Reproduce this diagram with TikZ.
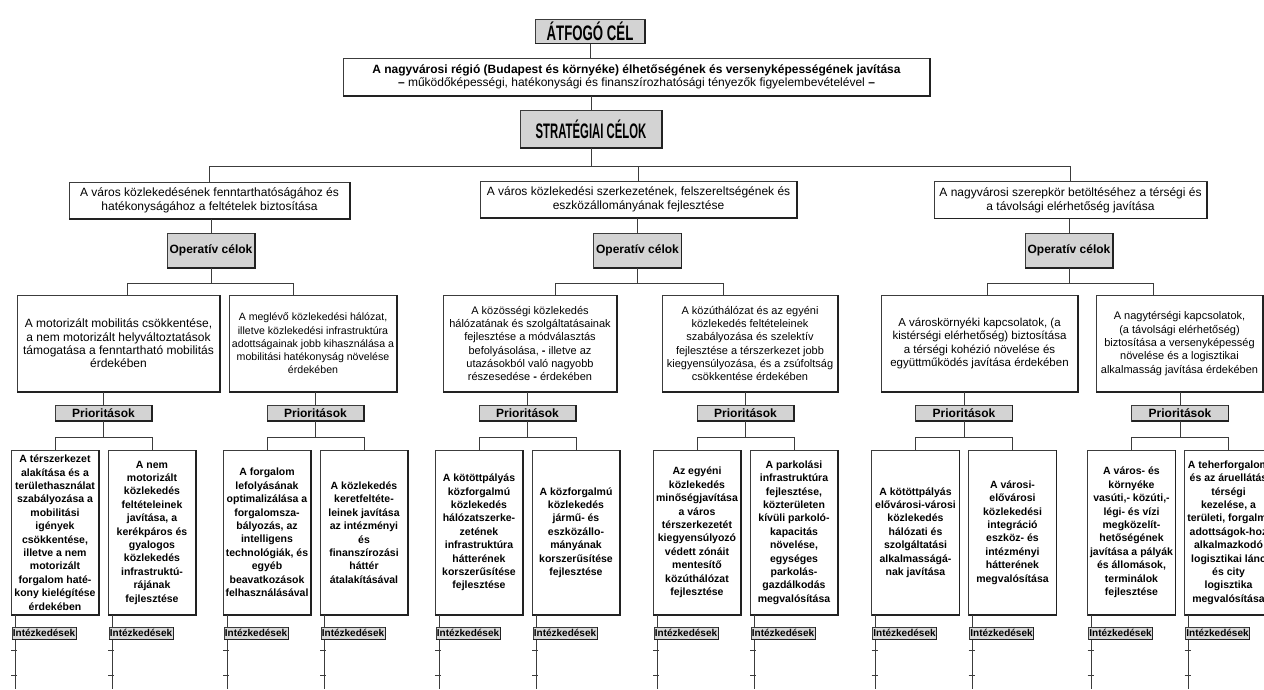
\documentclass[tikz,border=0pt]{standalone}
\usepackage{fontspec}
\setmainfont{Liberation Sans}
\usetikzlibrary{calc}
\definecolor{linec}{HTML}{3C3C3C}
\definecolor{edgec}{HTML}{222222}
\definecolor{boxgray}{HTML}{D3D3D3}
\definecolor{tabgray}{HTML}{DADADA}
\begin{document}
\begin{tikzpicture}[x=1pt,y=-1pt,
  every node/.style={inner sep=0pt,outer sep=0pt},
  conn/.style={draw=linec,line width=0.8pt},
  rim/.style={draw=edgec,line width=1.2pt},
  thinrim/.style={draw=edgec,line width=0.9pt},
  box/.style={draw=linec,line width=0.6pt,align=center},
  whitebox/.style={box,fill=white},
  graybox/.style={box,fill=boxgray},
  headbox/.style={graybox,font=\fontsize{21}{21}\selectfont\bfseries},
  topgoal/.style={whitebox,minimum width=587,minimum height=38,font=\fontsize{12}{12.5}\selectfont},
  stratgoal/.style={whitebox,minimum height=37,font=\fontsize{12}{14}\selectfont},
  optab/.style={graybox,minimum width=88,minimum height=35,font=\fontsize{12}{14}\selectfont\bfseries},
  opgoal/.style={whitebox,minimum height=97,font=\fontsize{11}{13.3}\selectfont},
  priotab/.style={graybox,minimum width=97,minimum height=16,font=\fontsize{12}{14}\selectfont\bfseries},
  priogoal/.style={whitebox,minimum width=88,minimum height=165,font=\fontsize{10.5}{13.4}\selectfont\bfseries},
  meastab/.style={box,fill=tabgray,line width=0.5pt,minimum width=64,minimum height=12,font=\fontsize{10}{10}\selectfont\bfseries},
]
\useasboundingbox (0,0) rectangle (1264,689);
\clip (0,0) rectangle (1264,689);
\fill[white] (0,0) rectangle (1264,689);

% --- overall goal and strategic heading ---
\node[headbox,minimum width=110,minimum height=24] (atfogo) at (590,31.5) {\scalebox{0.63}[1]{ÁTFOGÓ CÉL}};
\node[topgoal] (overall) at (636.5,77) {{\bfseries A nagyvárosi régió (Budapest és környéke) élhetőségének és versenyképességének javítása}\\{\bfseries –} működőképességi, hatékonysági és finanszírozhatósági tényezők figyelembevételével {\bfseries –}};
\node[headbox,minimum width=142,minimum height=38] (strat) at (591,129) {\scalebox{0.54}[1]{STRATÉGIAI CÉLOK}};

% --- strategic goals ---
\node[stratgoal,minimum width=281] (s1) at (209.5,200.5) {A város közlekedésének fenntarthatóságához és\\hatékonyságához a feltételek biztosítása};
\node[stratgoal,minimum width=317] (s2) at (638.5,199.5) {A város közlekedési szerkezetének, felszereltségének és\\eszközállományának fejlesztése};
\node[stratgoal,minimum width=273] (s3) at (1070.5,200) {A nagyvárosi szerepkör betöltéséhez a térségi és\\a távolsági elérhetőség javítása};

% --- operative headings ---
\node[optab] (op1) at (211,250.5) {Operatív célok};
\node[optab] (op2) at (637.5,250.5) {Operatív célok};
\node[optab] (op3) at (1069,250.5) {Operatív célok};

% --- operative goals ---
\node[opgoal,minimum width=203,font=\fontsize{12}{13.3}\selectfont] (g1a) at (118.5,343.5) {A motorizált mobilitás csökkentése,\\a nem motorizált helyváltoztatások\\támogatása a fenntartható mobilitás\\érdekében};
\node[opgoal,minimum width=168,font=\fontsize{10.6}{13.3}\selectfont] (g1b) at (313,343.5) {A meglévő közlekedési hálózat,\\illetve közlekedési infrastruktúra\\adottságainak jobb kihasználása a\\mobilitási hatékonyság növelése\\érdekében};
\node[opgoal,minimum width=174] (g2a) at (530,343.5) {A közösségi közlekedés\\hálózatának és szolgáltatásainak\\fejlesztése a módválasztás\\befolyásolása, {\bfseries -} illetve az\\utazásokból való nagyobb\\részesedése {\bfseries -} érdekében};
\node[opgoal,minimum width=176] (g2b) at (750,343.5) {A közúthálózat és az egyéni\\közlekedés feltételeinek\\szabályozása és szelektív\\fejlesztése a térszerkezet jobb\\kiegyensúlyozása, és a zsúfoltság\\csökkentése érdekében};
\node[opgoal,minimum width=197,font=\fontsize{11.5}{13.3}\selectfont] (g3a) at (979.5,343.5) {A városkörnyéki kapcsolatok, (a\\kistérségi elérhetőség) biztosítása\\a térségi kohézió növelése és\\együttműködés javítása érdekében};
\node[opgoal,minimum width=167] (g3b) at (1179.5,343.5) {A nagytérségi kapcsolatok,\\(a távolsági elérhetőség)\\biztosítása a versenyképesség\\növelése és a logisztikai\\alkalmasság javítása érdekében};

% --- priority headings ---
\node[priotab] (p1a) at (103.5,413) {Prioritások};
\node[priotab] (p1b) at (315.5,413) {Prioritások};
\node[priotab] (p2a) at (527.5,413) {Prioritások};
\node[priotab] (p2b) at (745.5,413) {Prioritások};
\node[priotab] (p3a) at (964,413) {Prioritások};
\node[priotab] (p3b) at (1180,413) {Prioritások};

% --- priorities ---
\node[priogoal] (q1) at (55,532.5) {A térszerkezet\\alakítása és a\\területhasználat\\szabályozása a\\mobilitási\\igények\\csökkentése,\\illetve a nem\\motorizált\\forgalom haté-\\kony kielégítése\\érdekében};
\node[priogoal] (q2) at (152,532.5) {A nem\\motorizált\\közlekedés\\feltételeinek\\javítása, a\\kerékpáros és\\gyalogos\\közlekedés\\infrastruktú-\\rájának\\fejlesztése};
\node[priogoal] (q3) at (267,532.5) {A forgalom\\lefolyásának\\optimalizálása a\\forgalomsza-\\bályozás, az\\intelligens\\technológiák, és\\egyéb\\beavatkozások\\felhasználásával};
\node[priogoal] (q4) at (364,532.5) {A közlekedés\\keretfeltéte-\\leinek javítása\\az intézményi\\és\\finanszírozási\\háttér\\átalakításával};
\node[priogoal] (q5) at (479,532.5) {A kötöttpályás\\közforgalmú\\közlekedés\\hálózatszerke-\\zetének\\infrastruktúra\\hátterének\\korszerűsítése\\fejlesztése};
\node[priogoal] (q6) at (576,532.5) {A közforgalmú\\közlekedés\\jármű- és\\eszközállo-\\mányának\\korszerűsítése\\fejlesztése};
\node[priogoal] (q7) at (697,532.5) {Az egyéni\\közlekedés\\minőségjavítása\\a város\\térszerkezetét\\kiegyensúlyozó\\védett zónáit\\mentesítő\\közúthálózat\\fejlesztése};
\node[priogoal] (q8) at (794,532.5) {A parkolási\\infrastruktúra\\fejlesztése,\\közterületen\\kívüli parkoló-\\kapacitás\\növelése,\\egységes\\parkolás-\\gazdálkodás\\megvalósítása};
\node[priogoal] (q9) at (915.5,532.5) {A kötöttpályás\\elővárosi-városi\\közlekedés\\hálózati és\\szolgáltatási\\alkalmasságá-\\nak javítása};
\node[priogoal] (q10) at (1012.5,532.5) {A városi-\\elővárosi\\közlekedési\\integráció\\eszköz- és\\intézményi\\hátterének\\megvalósítása};
\node[priogoal] (q11) at (1131.5,532.5) {A város- és\\környéke\\vasúti,- közúti,-\\légi- és vízi\\megközelít-\\hetőségének\\javítása a pályák\\és állomások,\\terminálok\\fejlesztése};
\node[priogoal] (q12) at (1228.5,532.5) {A teherforgalom\\és az áruellátás\\térségi\\kezelése, a\\területi, forgalmi\\adottságok-hoz\\alkalmazkodó\\logisztikai lánc\\és city\\logisztika\\megvalósítása};

% --- dark lower/right rims of the boxes ---
\foreach \n in {atfogo,overall,strat,s1,s2,s3,op1,op2,op3,g1a,g1b,g2a,g2b,g3a,g3b,p1a,p1b,p2a,p2b,p3a,p3b,q1,q2,q3,q4,q5,q6,q7,q8,q9,q10,q11,q12}
  \draw[rim] (\n.north east) -- (\n.south east) -- (\n.south west);

% --- upper connectors ---
\draw[conn] (atfogo.south) -- (atfogo.south |- overall.north);
\draw[conn] (strat.north |- overall.south) -- (strat.north);
\coordinate (hs) at (591,166.5);
\draw[conn] (strat.south) -- (hs);
\draw[conn] (s1.north) |- (hs) -| (s3.north);
\draw[conn] (s2.north) -- (s2.north |- hs);
\draw[conn] (op1.north |- s1.south) -- (op1.north);
\draw[conn] (op2.north |- s2.south) -- (op2.north);
\draw[conn] (op3.north |- s3.south) -- (op3.north);

% --- operative branches ---
\coordinate (j1a) at (127,283);  \coordinate (j1b) at (293,283);
\coordinate (j2a) at (555,283);  \coordinate (j2b) at (723,283);
\coordinate (j3a) at (987,283);  \coordinate (j3b) at (1153,283);
\draw[conn] (op1.south) -- (op1.south |- j1a);
\draw[conn] (op2.south) -- (op2.south |- j2a);
\draw[conn] (op3.south) -- (op3.south |- j3a);
\draw[conn] (g1a.north -| j1a) -- (j1a) -- (j1b) -- (g1b.north -| j1b);
\draw[conn] (g2a.north -| j2a) -- (j2a) -- (j2b) -- (g2b.north -| j2b);
\draw[conn] (g3a.north -| j3a) -- (j3a) -- (j3b) -- (g3b.north -| j3b);

% --- priority connectors ---
\foreach \g/\p/\a/\b in {g1a/p1a/q1/q2,g1b/p1b/q3/q4,g2a/p2a/q5/q6,g2b/p2b/q7/q8,g3a/p3a/q9/q10,g3b/p3b/q11/q12}{
  \draw[conn] (\p.north |- \g.south) -- (\p.north);
  \draw[conn] (\p.south) -- ++(0,16);
  \draw[conn] (\a.north) -- ++(0,-13) -| (\b.north);
}

% --- measures under each priority ---
\foreach \q in {q1,q2,q3,q4,q5,q6,q7,q8,q9,q10,q11,q12}{
  \draw[conn] ($(\q.south west)+(4,0)$) -- ($(\q.south west)+(4,74)$) coordinate (\q-end);
  \draw[conn] ($(\q.south west)+(0,35)$) -- ++(6,0);
  \draw[conn] ($(\q.south west)+(0,60)$) -- ++(6,0);
  \node[meastab,anchor=west] (\q-m) at ($(\q.south west)+(1,18)$) {Intézkedések};
  \draw[thinrim] (\q-m.north east) -- (\q-m.south east) -- (\q-m.south west);
}
\end{tikzpicture}
\end{document}
